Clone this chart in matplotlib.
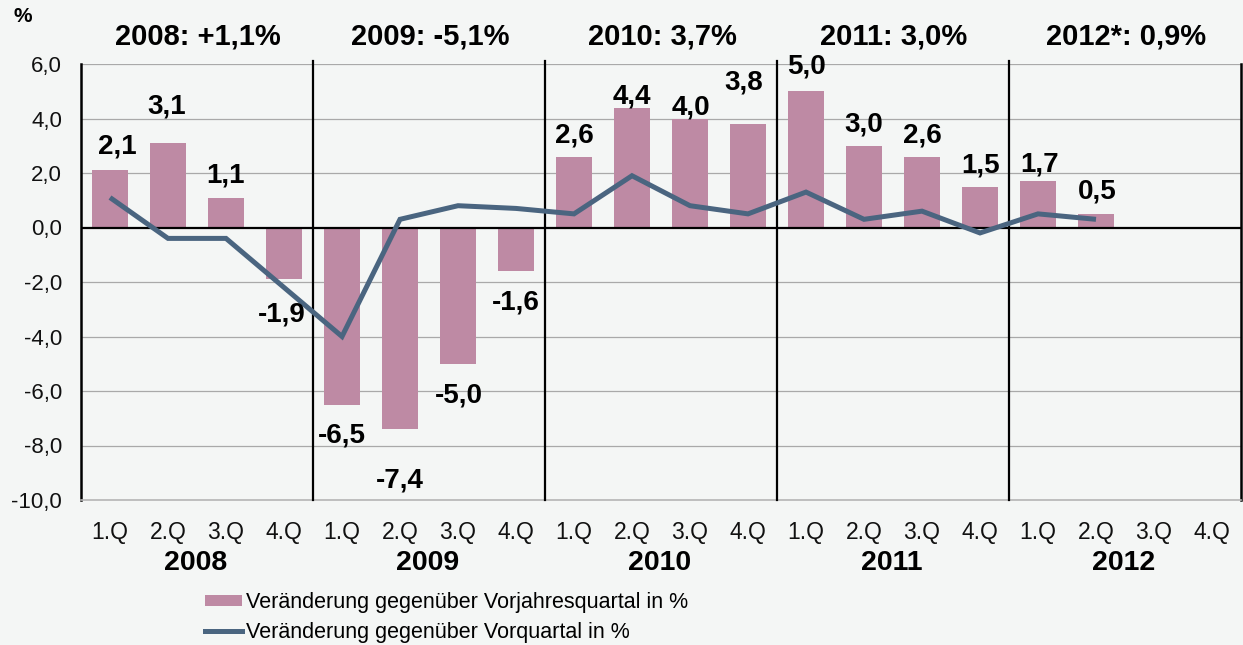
import matplotlib
matplotlib.use("Agg")
import matplotlib.pyplot as plt
from matplotlib.patches import Patch
from matplotlib.lines import Line2D

plt.rcParams['font.family'] = ['Liberation Sans', 'DejaVu Sans']

# ---------------- data ----------------
quarters = ["1.Q", "2.Q", "3.Q", "4.Q"] * 5
years = ["2008", "2009", "2010", "2011", "2012"]
year_titles = ["2008: +1,1%", "2009: -5,1%", "2010: 3,7%", "2011: 3,0%", "2012*: 0,9%"]
yoy = [2.1, 3.1, 1.1, -1.9, -6.5, -7.4, -5.0, -1.6, 2.6, 4.4, 4.0, 3.8,
       5.0, 3.0, 2.6, 1.5, 1.7, 0.5]
qoq = [1.1, -0.4, -0.4, -2.2, -4.0, 0.3, 0.8, 0.7, 0.5, 1.9, 0.8, 0.5,
       1.3, 0.3, 0.6, -0.2, 0.5, 0.3]
yticks = [6, 4, 2, 0, -2, -4, -6, -8, -10]
label_yoy = "Veränderung gegenüber Vorjahresquartal in %"
label_qoq = "Veränderung gegenüber Vorquartal in %"

# label placement tweaks (pixels, away from the bar end / horizontal)
lab_dy = [24, 36.5, 22, 35, 31, 51, 32, 31, 21, 11.4, 11, 41, 25, 21, 21, 21.6, 17, 22]
lab_dx = [7.5, -1, 0, -2, 0, 0, 1, 0, 0, 0, 1, -4.5, 0, 0, 0, 1, 2, 1]

# ---------------- style ----------------
bg = "#F4F6F5"
bar_col = "#BE8AA4"
line_col = "#4A6580"

W, H = 1243, 645
fig = plt.figure(figsize=(W / 100, H / 100), dpi=100, facecolor=bg)
ax = fig.add_axes([81 / W, 1 - 500 / H, 1160 / W, 436 / H], facecolor=bg)

n = len(quarters)
x_all = list(range(n))
ax.bar(x_all[:len(yoy)], yoy, width=0.63, color=bar_col, zorder=2)
ax.plot(x_all[:len(qoq)], qoq, color=line_col, lw=3.6, zorder=4,
        solid_joinstyle='miter', solid_capstyle='butt')

ax.set_xlim(-0.5, n - 0.5)
ax.set_ylim(-10, 6)

# grid
ax.set_yticks(yticks)
ax.set_yticklabels([f"{v:.1f}".replace(".", ",") for v in yticks])
for v in yticks:
    if v not in (0, -10):
        ax.axhline(v, color="#A9A9A9", lw=0.9, zorder=1)
ax.axhline(0, color="black", lw=1.6, zorder=3)

# separators between years
for k in range(1, len(years)):
    ax.axvline(4 * k - 0.5, ymin=0, ymax=1.008, color="black", lw=1.6,
               zorder=3, clip_on=False)

ax.set_xticks(x_all)
ax.set_xticklabels(quarters)
ax.tick_params(axis='x', length=0, pad=15, labelsize=16.5, colors='#111111')
ax.tick_params(axis='y', length=0, pad=13.5, labelsize=16, colors='#111111')

ax.spines["top"].set_visible(False)
ax.spines["left"].set_color("black")
ax.spines["left"].set_linewidth(1.8)
ax.spines["right"].set_color("black")
ax.spines["right"].set_linewidth(1.8)
ax.spines["bottom"].set_color("#B5B5B5")
ax.spines["bottom"].set_linewidth(1.2)

# data labels
for i, v in enumerate(yoy):
    sgn = 1 if v >= 0 else -1
    ax.annotate(f"{v:.1f}".replace(".", ","), xy=(i, v),
                xytext=(lab_dx[i], sgn * lab_dy[i]), textcoords="offset pixels",
                ha="center", va="center", fontsize=20, fontweight="bold",
                color="black", zorder=5)

# year labels below and titles above
for k, (yr, tt) in enumerate(zip(years, year_titles)):
    c = 4 * k + 1.5
    ax.annotate(yr, xy=(c, 0), xycoords=("data", "axes fraction"),
                xytext=(-1.5, -62.5), textcoords="offset pixels",
                ha="center", va="center", fontsize=20.5, fontweight="bold")
    ax.annotate(tt, xy=(c, 1), xycoords=("data", "axes fraction"),
                xytext=(1, 27.5), textcoords="offset pixels",
                ha="center", va="center", fontsize=21, fontweight="bold")

fig.text(22.5 / W, 1 - 16.5 / H, "%", ha="center", va="center",
         fontsize=15, fontweight="bold")

handles = [Patch(facecolor=bar_col, edgecolor="none"),
           Line2D([0], [0], color=line_col, lw=3.6)]
fig.legend(handles, [label_yoy, label_qoq], loc="upper left",
           bbox_to_anchor=(205 / W, 1 - 592 / H), frameon=False,
           fontsize=15.5, handlelength=1.7, handleheight=0.45,
           handletextpad=0.2, labelspacing=0.42, borderpad=0,
           borderaxespad=0)

fig.savefig("out.png", dpi=100, facecolor=bg)
